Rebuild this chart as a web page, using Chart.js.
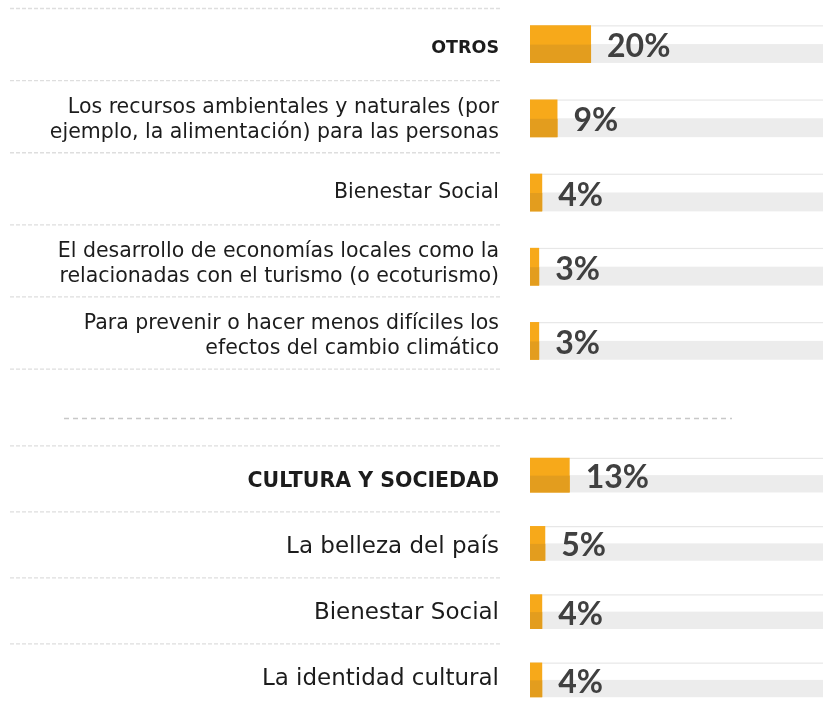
<!DOCTYPE html>
<html><head><meta charset="utf-8">
<script src="https://cdn.jsdelivr.net/npm/chart.js@4"></script>
<style>
html,body{margin:0;padding:0;background:#fff;overflow:hidden;width:823px;height:707px;position:relative;}
#c1{position:absolute;left:0;top:0;}
#c2{position:absolute;left:0;top:441px;}
#mid{position:absolute;left:0;top:0;pointer-events:none;}
</style></head><body>
<canvas id="c1" width="823" height="385"></canvas>
<svg id="mid" width="823" height="707"><line x1="64" y1="418.5" x2="732" y2="418.5" stroke="#c8c8c8" stroke-width="1.7" stroke-dasharray="5 4"/></svg>
<canvas id="c2" width="823" height="273"></canvas>
<script>
// ---- data ----
const group1Labels = [
  "OTROS",
  ["Los recursos ambientales y naturales (por", "ejemplo, la alimentación) para las personas"],
  "Bienestar Social",
  ["El desarrollo de economías locales como la", "relacionadas con el turismo (o ecoturismo)"],
  ["Para prevenir o hacer menos difíciles los", "efectos del cambio climático"]
];
const group1Values = [20, 9, 4, 3, 3];
const group1Header = [true, false, false, false, false];

const group2Labels = ["CULTURA Y SOCIEDAD", "La belleza del país", "Bienestar Social", "La identidad cultural"];
const group2Values = [13, 5, 4, 4];
const group2Header = [true, false, false, false];

const axisMax = 96;

// ---- decoration plugin ----
const decor = {
  id: 'decor',
  beforeDatasetsDraw(chart, args, opts) {
    const ctx = chart.ctx, area = chart.chartArea, xs = chart.scales.x, ys = chart.scales.y;
    const meta = chart.getDatasetMeta(0);
    const x0 = xs.getPixelForValue(0);
    ctx.save();
    meta.data.forEach(el => {
      const top = el.y - el.height / 2, h = el.height;
      ctx.fillStyle = '#ececec';
      ctx.fillRect(x0, el.y, area.right - x0, top + h - el.y);
      ctx.fillStyle = '#e7e7e7';
      ctx.fillRect(x0, top, area.right - x0, 1.2);
    });
    const n = chart.data.labels.length;
    const step = ys.getPixelForValue(1) - ys.getPixelForValue(0);
    const t = ys.getPixelForValue(0) - opts.sepTop * step;
    const b = ys.getPixelForValue(n - 1) + opts.sepBottom * step;
    const seps = [];
    for (let i = 0; i <= n; i++) seps.push(t + (b - t) * i / n);
    ctx.strokeStyle = '#dedede';
    ctx.lineWidth = 1.3;
    ctx.setLineDash([4, 2]);
    seps.forEach(y => {
      ctx.beginPath(); ctx.moveTo(10, y); ctx.lineTo(area.left - 29, y); ctx.stroke();
    });
    ctx.setLineDash([]);
    ctx.textAlign = 'right';
    ctx.textBaseline = 'middle';
    ctx.fillStyle = '#1c1c1c';
    chart.data.labels.forEach((lab, i) => {
      const cy = (seps[i] + seps[i + 1]) / 2 + opts.labelShift;
      const lines = Array.isArray(lab) ? lab : [lab];
      ctx.font = opts.header[i] ? opts.headFont : opts.font;
      lines.forEach((ln, k) => {
        ctx.fillText(ln, area.left - 31, cy + (k - (lines.length - 1) / 2) * opts.lineHeight);
      });
    });
    ctx.restore();
  },
  afterDatasetsDraw(chart, args, opts) {
    const ctx = chart.ctx, xs = chart.scales.x;
    const meta = chart.getDatasetMeta(0);
    const x0 = xs.getPixelForValue(0);
    const vals = chart.data.datasets[0].data;
    ctx.save();
    meta.data.forEach((el, i) => {
      const top = el.y - el.height / 2, h = el.height;
      ctx.fillStyle = '#e39d1e';
      ctx.fillRect(x0, el.y + 0.5, el.x - x0, top + h - el.y - 0.5);
      ctx.fillStyle = '#404040';
      ctx.font = 'bold 32px Lato';
      ctx.textAlign = 'left';
      ctx.textBaseline = 'alphabetic';
      ctx.fillText(vals[i] + '%', el.x + 16, el.y + 13);
    });
    ctx.restore();
  }
};

function makeChart(id, labels, values, header, pad, decorOpts) {
  return new Chart(document.getElementById(id), {
    type: 'bar',
    data: {
      labels: labels,
      datasets: [{
        data: values,
        backgroundColor: '#f7a91a',
        borderWidth: 0,
        barPercentage: 0.508,
        categoryPercentage: 1
      }]
    },
    options: {
      indexAxis: 'y',
      responsive: false,
      animation: false,
      devicePixelRatio: 1,
      layout: { padding: pad },
      scales: {
        x: { display: false, min: 0, max: axisMax },
        y: { display: false }
      },
      plugins: {
        legend: { display: false },
        tooltip: { enabled: false },
        decor: Object.assign({ header: header }, decorOpts)
      }
    },
    plugins: [decor]
  });
}

makeChart('c1', group1Labels, group1Values, group1Header,
  { left: 530, right: 0, top: 7, bottom: 7 },
  { sepTop: 0.48, sepBottom: 0.38, labelShift: 3.5, lineHeight: 25,
    font: '20.5px "DejaVu Sans"', headFont: 'bold 17.5px "DejaVu Sans"' });

makeChart('c2', group2Labels, group2Values, group2Header,
  { left: 530, right: 0, top: 0, bottom: 0 },
  { sepTop: 0.43, sepBottom: 0.44, labelShift: 2.5, lineHeight: 27,
    font: '23px "DejaVu Sans"', headFont: 'bold 20.5px "DejaVu Sans"' });
</script>
</body></html>
